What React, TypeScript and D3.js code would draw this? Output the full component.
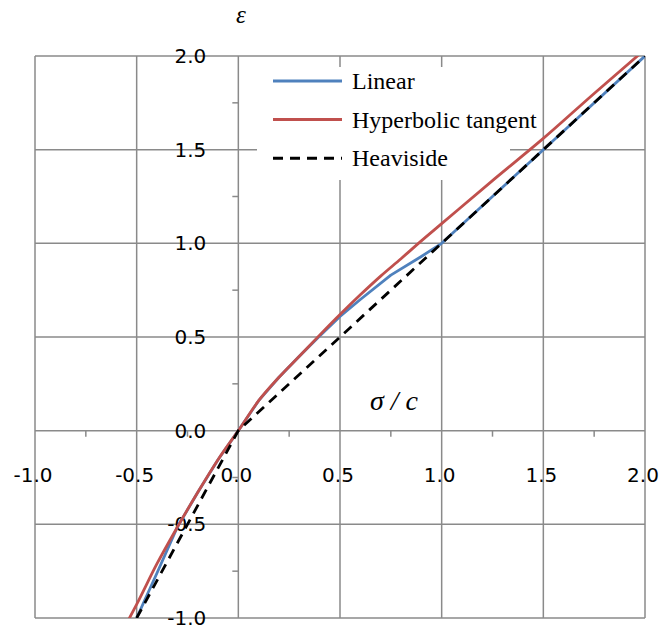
import React from "react";
import * as d3 from "d3";

// Normalised stress sigma/c against strain epsilon for three switching functions
const linearX = [-0.5, -0.4, -0.3, -0.2, -0.1, 0, 0.1, 0.2, 0.3, 0.4, 0.5, 0.6, 0.75, 0.9, 1.0, 1.5, 2.0];
const linearY = [-1.0, -0.76, -0.515, -0.33, -0.155, 0, 0.16, 0.285, 0.397, 0.505, 0.61, 0.7, 0.83, 0.93, 1.0, 1.5, 2.0];

const tanhX = [-0.55, -0.5, -0.4, -0.3, -0.2, -0.1, 0, 0.1, 0.2, 0.3, 0.4, 0.5, 0.6, 0.7, 0.8, 0.9, 1.0, 1.25, 1.5, 1.75, 2.0];
const tanhY = [-1.03, -0.927, -0.71, -0.515, -0.33, -0.155, 0, 0.16, 0.285, 0.397, 0.51, 0.62, 0.725, 0.825, 0.918, 1.013, 1.105, 1.335, 1.56, 1.8, 2.035];

const heavisideX = [-0.5, 0, 2.0];
const heavisideY = [-1.0, 0, 2.0];

const xTicks = [-1.0, -0.5, 0.0, 0.5, 1.0, 1.5, 2.0];
const yTicks = [-1.0, -0.5, 0.0, 0.5, 1.0, 1.5, 2.0];
const minorTicks = [-0.75, -0.25, 0.25, 0.75, 1.25, 1.75];

const legendItems = [
  { label: "Linear", color: "#4F81BD", dash: "" },
  { label: "Hyperbolic tangent", color: "#C0504D", dash: "" },
  { label: "Heaviside", color: "#000000", dash: "10,7" },
];

const W = 659;
const H = 630;
const GRID = "#8a8a8a";

// one decimal, plain hyphen for negatives
const fmt = (v: number) => (v < 0 ? "-" : "") + Math.abs(v).toFixed(1);

export default function App() {
  const x = d3.scaleLinear().domain([-1, 2]).range([35, 645]);
  const y = d3.scaleLinear().domain([-1, 2]).range([618, 56]);

  const smooth = d3
    .line<[number, number]>()
    .x((d) => x(d[0]))
    .y((d) => y(d[1]))
    .curve(d3.curveMonotoneX);
  const straight = d3
    .line<[number, number]>()
    .x((d) => x(d[0]))
    .y((d) => y(d[1]));

  const zip = (a: number[], b: number[]) => a.map((v, i) => [v, b[i]] as [number, number]);

  const x0 = x(0);
  const y0 = y(0);

  return (
    <svg
      width={W}
      height={H}
      style={{ position: "absolute", left: 0, top: 0, background: "#fff" }}
    >
      <defs>
        <clipPath id="plot">
          <rect x={x(-1)} y={y(2)} width={x(2) - x(-1)} height={y(-1) - y(2)} />
        </clipPath>
      </defs>

      {/* grid */}
      <g stroke={GRID} strokeWidth={1.5}>
        {xTicks.map((t) => (
          <line key={"vx" + t} x1={x(t)} x2={x(t)} y1={y(2)} y2={y(-1)} />
        ))}
        {yTicks.map((t) => (
          <line key={"hy" + t} x1={x(-1)} x2={x(2)} y1={y(t)} y2={y(t)} />
        ))}
        {minorTicks.map((t) => (
          <line key={"mx" + t} x1={x(t)} x2={x(t)} y1={y0} y2={y0 + 6} />
        ))}
        {minorTicks.map((t) => (
          <line key={"my" + t} x1={x0 - 6} x2={x0} y1={y(t)} y2={y(t)} />
        ))}
      </g>

      {/* tick labels */}
      <g fontFamily="DejaVu Sans, sans-serif" fontSize={20} fill="#000">
        {yTicks.map((t) => (
          <text key={"ly" + t} x={x0 - 32} y={y(t)} textAnchor="end" dominantBaseline="central">
            {fmt(t)}
          </text>
        ))}
        {xTicks.map((t) => (
          <text key={"lx" + t} x={x(t) - 2} y={y0 + 51} textAnchor="middle">
            {fmt(t)}
          </text>
        ))}
      </g>

      {/* legend panel */}
      <rect x={257} y={67} width={253} height={113} fill="#fff" />
      <g fontFamily="Liberation Serif, Times New Roman, serif" fontSize={24} fill="#000">
        {legendItems.map((it, i) => {
          const ly = 81 + i * 38.6;
          return (
            <g key={it.label}>
              <line
                x1={273}
                x2={342}
                y1={ly}
                y2={ly}
                stroke={it.color}
                strokeWidth={3}
                strokeDasharray={it.dash || undefined}
              />
              <text x={352} y={ly + 8}>
                {it.label}
              </text>
            </g>
          );
        })}
      </g>

      {/* series */}
      <g clipPath="url(#plot)" fill="none" strokeWidth={2.8}>
        <path d={straight(zip(linearX, linearY)) || ""} stroke="#4F81BD" strokeLinejoin="round" />
        <path d={smooth(zip(tanhX, tanhY)) || ""} stroke="#C0504D" />
        <path d={straight(zip(heavisideX, heavisideY)) || ""} stroke="#000" strokeDasharray="10,7" />
      </g>

      {/* axis titles */}
      <text
        x={241}
        y={23}
        textAnchor="middle"
        fontFamily="Liberation Serif, Times New Roman, serif"
        fontStyle="italic"
        fontSize={25}
      >
        ε
      </text>
      <text
        x={394}
        y={410}
        textAnchor="middle"
        fontFamily="Liberation Serif, Times New Roman, serif"
        fontStyle="italic"
        fontSize={28}
      >
        σ / c
      </text>
    </svg>
  );
}
